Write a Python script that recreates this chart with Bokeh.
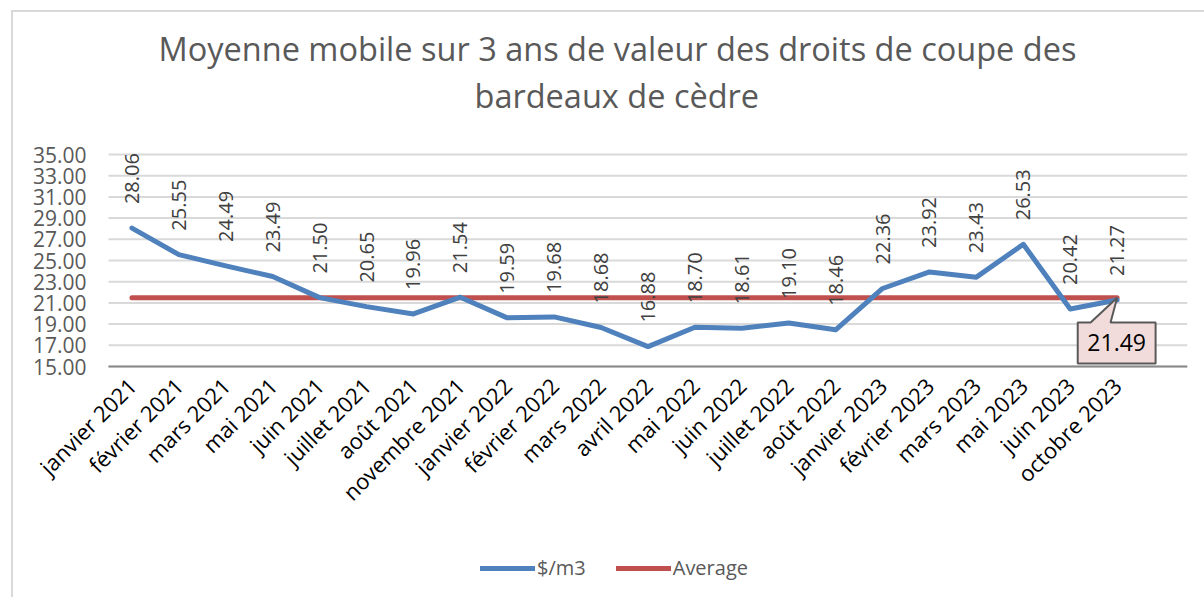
import math
from bokeh.plotting import figure
from bokeh.models import (ColumnDataSource, FixedTicker, Title,
                          Legend, LegendItem, Range1d)
from bokeh.core.properties import value
from bokeh.embed import file_html
from bokeh.resources import INLINE

# ---------------- data ----------------
months = ["janvier 2021", "février 2021", "mars 2021", "mai 2021", "juin 2021",
          "juillet 2021", "août 2021", "novembre 2021", "janvier 2022", "février 2022",
          "mars 2022", "avril 2022", "mai 2022", "juin 2022", "juillet 2022",
          "août 2022", "janvier 2023", "février 2023", "mars 2023", "mai 2023",
          "juin 2023", "octobre 2023"]
price = [28.06, 25.55, 24.49, 23.49, 21.50, 20.65, 19.96, 21.54, 19.59, 19.68,
         18.68, 16.88, 18.70, 18.61, 19.10, 18.46, 22.36, 23.92, 23.43, 26.53,
         20.42, 21.27]
average = [21.49] * len(months)
y_ticks = [15, 17, 19, 21, 23, 25, 27, 29, 31, 33, 35]
title_lines = ["Moyenne mobile sur 3 ans de valeur des droits de coupe des",
               "bardeaux de cèdre"]

FONT = "Open Sans"
BLUE = "#4F81BD"
RED = "#C0504D"

n = len(months)
xs = list(range(n))
y_lo, y_hi = y_ticks[0], y_ticks[-1]
x_lo, x_hi = -0.5, n + 0.5          # plotting area (one empty slot at the right)

# the frame covers the whole chart so that nothing outside the plot area is clipped
PLOT_W, PLOT_H = 1079, 212          # pixel size of the visible plot area
LEFT_PAD = 95                       # room for the y labels inside the frame
TOP_PAD = 12                        # room above the top gridline for its label
FRAME_H = 443 + TOP_PAD             # extends down to hold x labels and legend
PPX = PLOT_W / (x_hi - x_lo)
PPY = PLOT_H / (y_hi - y_lo)
y_top = y_hi + TOP_PAD / PPY

p = figure(frame_width=PLOT_W + LEFT_PAD, frame_height=FRAME_H, output_backend="svg",
           toolbar_location=None, y_axis_location=None,
           x_range=Range1d(x_lo - LEFT_PAD / PPX, x_hi),
           y_range=Range1d(y_top - FRAME_H / PPY, y_top),
           min_border_left=0, min_border_right=17, min_border_top=142 - TOP_PAD,
           min_border_bottom=0)
p.styles = {"margin-left": "11px", "margin-top": "10px",
            "border-left": "2px solid #d9d9d9", "border-top": "2px solid #d9d9d9"}
p.outline_line_color = None
p.background_fill_color = "white"
p.border_fill_color = "white"
p.xgrid.grid_line_color = None
p.ygrid.grid_line_color = None

# title lines (nearest the frame first), left-aligned with offsets to centre them
for line, so, off in zip(reversed(title_lines), [50, -51], [366 + LEFT_PAD, 50 + LEFT_PAD]):
    p.add_layout(Title(text=line, align="left", offset=off, standoff=so,
                       text_font=FONT, text_font_size="32.5px", text_font_style="normal",
                       text_color="#595959"), "above")

# horizontal gridlines over the plot area
p.segment(x0=[x_lo] * len(y_ticks), x1=[x_hi] * len(y_ticks), y0=y_ticks, y1=y_ticks,
          line_color="#d9d9d9", line_width=2)

# y tick labels
p.text(x=[x_lo] * len(y_ticks), y=y_ticks, text=["%.2f" % t for t in y_ticks],
       x_offset=-22, text_align="right", text_baseline="middle",
       text_font=value(FONT), text_font_size="21px", text_color="#595959")

# x axis, drawn at y = 15 inside the frame
p.xaxis.fixed_location = y_lo
p.xaxis.bounds = (x_lo, x_hi)
p.xaxis.ticker = FixedTicker(ticks=xs)
p.xaxis.major_label_overrides = {i: m for i, m in enumerate(months)}
p.xaxis.major_label_orientation = math.pi / 4
p.xaxis.major_label_text_font = FONT
p.xaxis.major_label_text_font_size = "22px"
p.xaxis.major_label_text_color = "#000000"
p.xaxis.major_tick_line_color = None
p.xaxis.minor_tick_line_color = None
p.xaxis.axis_line_color = "#898989"
p.xaxis.axis_line_width = 2
p.xaxis.major_label_standoff = 9

src = ColumnDataSource(dict(x=xs, price=price, avg=average,
                            lbl=["%.2f" % v for v in price]))

r_avg = p.line("x", "avg", source=src, line_color=RED, line_width=5, line_cap="round")
r_price = p.line("x", "price", source=src, line_color=BLUE, line_width=5,
                 line_join="round", line_cap="round")

# vertical data labels
p.text("x", "price", text="lbl", source=src, angle=math.pi / 2, y_offset=-24,
       text_align="left", text_baseline="middle", text_font=value(FONT),
       text_font_size="20px", text_color="#404040")

# callout for average
last = n - 1
avg_v = average[-1]
bx = [last - 0.84, last - 0.565, last, last - 0.14, last + 0.82, last + 0.82, last - 0.84]
by = [avg_v - 2.34, avg_v - 2.34, avg_v, avg_v - 2.34, avg_v - 2.34, avg_v - 6.2, avg_v - 6.2]
p.patch(bx, by, fill_color="#F2DCDB", line_color="#595959", line_width=2)
p.text([last - 0.01], [avg_v - 4.27], text=["%.2f" % avg_v], text_align="center",
       text_baseline="middle", text_font=value(FONT), text_font_size="23px",
       text_color="#000000")

legend = Legend(items=[LegendItem(label="$/m3", renderers=[r_price]),
                       LegendItem(label="Average", renderers=[r_avg])],
                orientation="horizontal", location=(372 + LEFT_PAD, 16), margin=0,
                label_text_font=FONT, label_text_font_size="20px",
                label_text_color="#595959", glyph_width=55, glyph_height=20,
                spacing=30, label_standoff=2, border_line_color=None,
                background_fill_alpha=0, padding=0)
p.add_layout(legend, "center")

open("out.html", "w").write(file_html(p, INLINE))
